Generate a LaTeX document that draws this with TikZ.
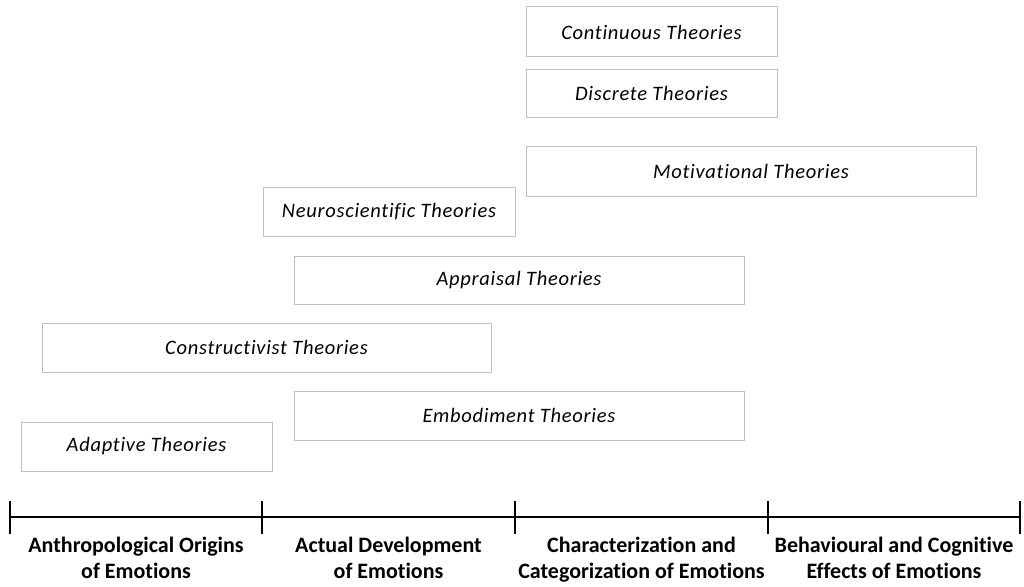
\documentclass[tikz,border=0pt]{standalone}
\usepackage{fontspec}
\setmainfont[Ligatures=NoCommon]{Carlito}
\newfontfamily\boxfont[Ligatures=NoCommon,LetterSpace=3.5,ItalicFont={* Italic}]{Carlito}
\begin{document}
\begin{tikzpicture}[x=1pt,y=-1pt,
  theory/.style={draw=black!25,line width=1pt,fill=white,inner sep=0pt,
    font=\boxfont\fontsize{20.5}{24}\selectfont\itshape},
  era/.style={font=\fontsize{22}{25.5}\selectfont\bfseries,align=center,
    anchor=north,inner sep=0pt},
  axisline/.style={line width=2pt,black},
]
\useasboundingbox (0,0) rectangle (1024,586);

% theory boxes: (left,top) corner and size
\newcommand{\theorybox}[6]{%
  \node[theory,minimum width=#4pt,minimum height=#5pt,anchor=north west] (#1) at (#2,#3) {#6};}
\theorybox{cont}{525.5}{6.5}{251}{50}{Continuous Theories}
\theorybox{disc}{525.5}{68.5}{251}{48}{Discrete Theories}
\theorybox{moti}{525.5}{145.5}{450}{50}{Motivational Theories}
\theorybox{neur}{262.5}{186.5}{252}{49}{Neuroscientific Theories}
\theorybox{appr}{293.5}{255.5}{450}{48}{Appraisal Theories}
\theorybox{cons}{41.5}{322.5}{449}{49}{Constructivist Theories}
\theorybox{embo}{293.5}{390.5}{450}{49}{Embodiment Theories}
\theorybox{adap}{20.5}{421.5}{251}{49}{Adaptive Theories}

% timeline
\coordinate (t0) at (10,517);
\coordinate (t1) at (262,517);
\coordinate (t2) at (515,517);
\coordinate (t3) at (768,517);
\coordinate (t4) at (1020,517);
\draw[axisline] (t0) -- (t4);
\foreach \t in {t0,t1,t2,t3,t4}
  \draw[axisline] ([yshift=-17pt]\t) -- ([yshift=16pt]\t);

\node[era] (e1) at (136,537) {Anthropological Origins\\of Emotions};
\node[era] (e2) at (388.5,537) {Actual Development\\of Emotions};
\node[era] (e3) at (641.5,537) {Characterization and\\Categorization of Emotions};
\node[era] (e4) at (894,537) {Behavioural and Cognitive\\Effects of Emotions};
\end{tikzpicture}
\end{document}
